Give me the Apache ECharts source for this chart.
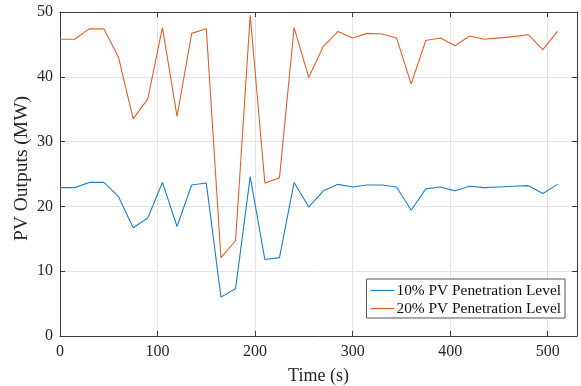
<!DOCTYPE html>
<html>
<head>
<meta charset="utf-8">
<script src="https://cdn.jsdelivr.net/npm/echarts@6/dist/echarts.min.js"></script>
<style>
  html, body { margin: 0; padding: 0; background: #fff; }
  #chart { width: 581px; height: 386px; }
</style>
</head>
<body>
<div id="chart"></div>
<script>
// time stamps, every 15 s
const times = [0, 15, 30, 45, 60, 75, 90, 105, 120, 135, 150, 165, 180, 195, 210, 225, 240,
  255, 270, 285, 300, 315, 330, 345, 360, 375, 390, 405, 420, 435, 450, 465, 480, 495, 510];

const pv10 = [22.9, 22.9, 23.7, 23.7, 21.5, 16.7, 18.2, 23.7, 16.9, 23.3, 23.6, 6.0, 7.3, 24.6, 11.8, 12.1, 23.7,
  19.9, 22.4, 23.4, 23.0, 23.3, 23.3, 23.0, 19.4, 22.7, 23.0, 22.4, 23.1, 22.9, 23.0, 23.1, 23.2, 22.0, 23.4];

const pv20 = [45.8, 45.8, 47.4, 47.4, 43.0, 33.5, 36.6, 47.6, 33.9, 46.7, 47.4, 12.1, 14.7, 49.5, 23.6, 24.4, 47.6,
  39.9, 44.7, 47.0, 46.0, 46.7, 46.6, 46.0, 38.9, 45.6, 46.0, 44.8, 46.3, 45.8, 46.0, 46.2, 46.5, 44.2, 47.0];

const seriesNames = ['10% PV Penetration Level', '20% PV Penetration Level'];
const xTicks = [0, 100, 200, 300, 400, 500];

const FONT = 'Liberation Serif';
const axisCol = '#3a3a3a';
const gridCol = '#e3e3e3';

function pairs(vals) {
  return times.map((t, i) => [t, vals[i]]);
}

const chart = echarts.init(document.getElementById('chart'), null, { renderer: 'canvas' });

// shared settings for the box (top / right) axes
const boxAxis = {
  axisLine: { show: true, onZero: false, lineStyle: { color: axisCol, width: 1 } },
  axisTick: { show: true, inside: true, length: 5, lineStyle: { color: axisCol } },
  axisLabel: { show: false },
  splitLine: { show: false }
};

const option = {
  animation: false,
  textStyle: { fontFamily: FONT },
  grid: { left: 60, right: 4, top: 12, bottom: 50, outerBoundsMode: 'none', containLabel: false },
  legend: {
    orient: 'vertical',
    right: 16,
    bottom: 68,
    backgroundColor: '#fff',
    borderColor: '#555',
    borderWidth: 1,
    padding: [4, 4, 2, 4],
    itemGap: 3,
    itemWidth: 24,
    itemHeight: 1.2,
    icon: 'rect',
    textStyle: { fontFamily: FONT, fontSize: 15.4, color: '#111', padding: [0, 0, 0, -3] },
    data: seriesNames
  },
  xAxis: [
    {
      type: 'value',
      min: 0,
      max: 530,
      interval: 100,
      name: 'Time (s)',
      nameLocation: 'middle',
      nameGap: 31,
      nameTextStyle: { fontFamily: FONT, fontSize: 18, color: '#262626' },
      axisLine: { show: true, onZero: false, lineStyle: { color: axisCol, width: 1 } },
      axisTick: { show: true, inside: true, length: 5, lineStyle: { color: axisCol } },
      axisLabel: {
        fontFamily: FONT, fontSize: 16, color: '#262626', margin: 8,
        showMaxLabel: false,
        formatter: v => (xTicks.includes(v) ? String(v) : '')
      },
      splitLine: { show: true, lineStyle: { color: gridCol, width: 1 } }
    },
    Object.assign({ type: 'value', position: 'top', min: 0, max: 530, interval: 100 }, boxAxis)
  ],
  yAxis: [
    {
      type: 'value',
      min: 0,
      max: 50,
      interval: 10,
      name: 'PV Outputs (MW)',
      nameLocation: 'middle',
      nameGap: 28,
      nameMoveOverlap: false,
      nameTextStyle: { fontFamily: FONT, fontSize: 19.5, color: '#262626', padding: [0, 0, 0, 11] },
      axisLine: { show: true, onZero: false, lineStyle: { color: axisCol, width: 1 } },
      axisTick: { show: true, inside: true, length: 5, lineStyle: { color: axisCol } },
      axisLabel: { fontFamily: FONT, fontSize: 16, color: '#262626', margin: 7 },
      splitLine: { show: true, lineStyle: { color: gridCol, width: 1 } }
    },
    Object.assign({ type: 'value', position: 'right', min: 0, max: 50, interval: 10 }, boxAxis)
  ],
  series: [
    {
      name: seriesNames[0],
      type: 'line',
      symbol: 'none',
      color: '#1f7fca',
      lineStyle: { width: 1.1, color: '#1f7fca' },
      data: pairs(pv10)
    },
    {
      name: seriesNames[1],
      type: 'line',
      symbol: 'none',
      color: '#e0602c',
      lineStyle: { width: 1.1, color: '#e0602c' },
      data: pairs(pv20)
    }
  ]
};

chart.setOption(option);
</script>
</body>
</html>
